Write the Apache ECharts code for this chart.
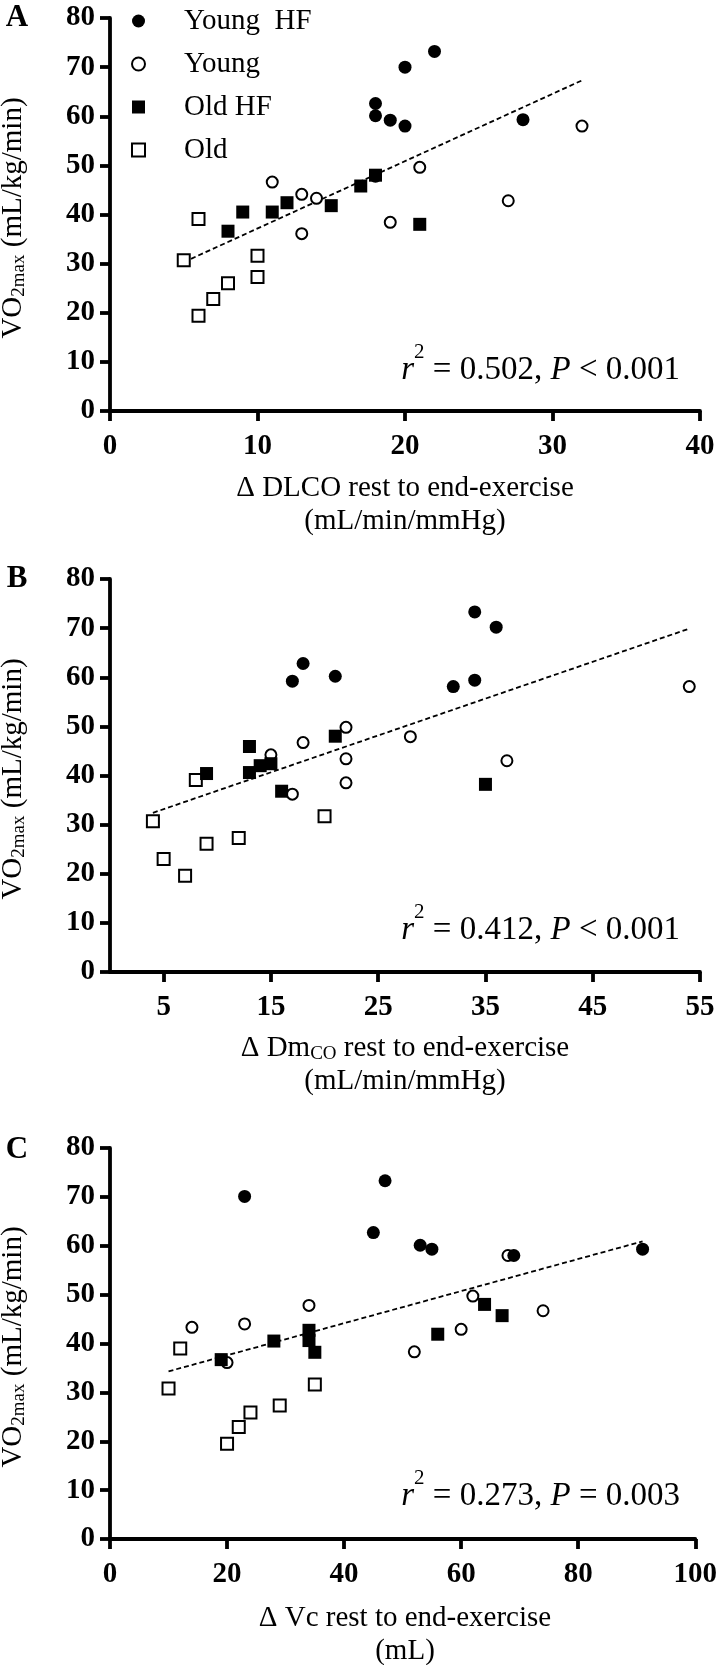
<!DOCTYPE html>
<html><head><meta charset="utf-8">
<script src="https://cdn.jsdelivr.net/npm/echarts@6/dist/echarts.min.js"></script>
<style>html,body{margin:0;padding:0;background:#fff}#c{width:720px;height:1665px}</style>
</head><body><div id="c"></div>
<script>
// ---------- DATA ----------
const groupNames = ['Young  HF', 'Young', 'Old HF', 'Old'];
const yTicks = [0, 10, 20, 30, 40, 50, 60, 70, 80];

// Panel A: Δ DLCO (mL/min/mmHg) vs VO2max
const xTicksA = [0, 10, 20, 30, 40];
const aYoungHF = [[22,73.2],[20,70.0],[18,62.6],[18,60.1],[19,59.2],[20,58.0],[28,59.3]];
const aYoung   = [[11,46.6],[13,44.1],[14,43.3],[13,36.1],[19,38.4],[21,49.6],[27,42.8],[32,58.0],[18,47.8]];
const aOldHF   = [[8,36.6],[9,40.5],[11,40.5],[12,42.4],[15,41.8],[17,45.8],[18,48.0],[21,38.0]];
const aOld     = [[5,30.7],[6,39.1],[6,19.4],[7,22.8],[8,26.0],[10,31.6],[10,27.3]];
const aFit     = [[5,30.3],[32,67.3]];

// Panel B: Δ DmCO (mL/min/mmHg) vs VO2max
const xTicksB = [5, 15, 25, 35, 45, 55];
const bYoungHF = [[34,73.3],[36,70.2],[18,62.8],[17,59.2],[21,60.2],[32,58.1],[34,59.4]];
const bYoung   = [[54,58.1],[22,49.8],[28,47.9],[18,46.7],[15,44.2],[22,43.4],[37,43.0],[22,38.5],[17,36.2]];
const bOldHF   = [[13,45.9],[9,40.4],[13,40.6],[14,42.0],[15,42.4],[16,36.8],[21,48.0],[35,38.2]];
const bOld     = [[4,30.7],[8,39.1],[20,31.7],[12,27.3],[9,26.1],[5,23.0],[7,19.6]];
const bFit     = [[4,32.4],[54,69.9]];

// Panel C: Δ Vc (mL) vs VO2max
const xTicksC = [0, 20, 40, 60, 80, 100];
const cYoungHF = [[23,70.1],[47,73.3],[45,62.7],[53,60.1],[55,59.3],[69,58.0],[91,59.3]];
const cYoung   = [[14,43.3],[23,44.0],[34,47.8],[20,36.1],[52,38.3],[60,42.9],[62,49.7],[68,58.0],[74,46.7]];
const cOldHF   = [[19,36.7],[28,40.5],[34,42.7],[34,40.6],[35,38.2],[56,41.9],[64,48.0],[67,45.7]];
const cOld     = [[10,30.8],[12,39.0],[20,19.5],[22,22.9],[24,25.9],[29,27.3],[35,31.6]];
const cFit     = [[10,34.3],[91,60.9]];

const statsA = ['0.502', '<', '0.001'];
const statsB = ['0.412', '<', '0.001'];
const statsC = ['0.273', '=', '0.003'];

// ---------- CHART ----------
const SERIF = '"Liberation Serif","Times New Roman",serif';
const chart = echarts.init(document.getElementById('c'));

const grids = [
  {left:110, top:18, width:590, height:393},
  {left:110, top:579, width:590, height:393},
  {left:110, top:1148, width:590, height:391}
];
const lineSt = {color:'#000', width:3.8};
function xAxis(i, min, max, ticks) {
  return {
    type:'value', gridIndex:i, min, max,
    axisLine:{show:true, onZero:false, lineStyle:lineSt},
    axisTick:{show:true, length:10, customValues:ticks, lineStyle:lineSt},
    axisLabel:{customValues:ticks, margin:21, fontFamily:SERIF, fontWeight:'bold', fontSize:29, color:'#000'},
    splitLine:{show:false}
  };
}
function yAxis(i) {
  return {
    type:'value', gridIndex:i, min:0, max:80,
    axisLine:{show:true, onZero:false, lineStyle:lineSt},
    axisTick:{show:true, length:10, customValues:yTicks, lineStyle:lineSt},
    axisLabel:{customValues:yTicks, margin:15, fontFamily:SERIF, fontWeight:'bold', fontSize:29, color:'#000'},
    splitLine:{show:false}
  };
}
const styles = {
  'Young  HF': {symbol:'circle', symbolSize:13, itemStyle:{color:'#000', opacity:1}},
  'Young':     {symbol:'circle', symbolSize:11, itemStyle:{color:'#fff', borderColor:'#000', borderWidth:2, opacity:1}},
  'Old HF':    {symbol:'rect', symbolSize:13, itemStyle:{color:'#000', opacity:1}},
  'Old':       {symbol:'rect', symbolSize:12, itemStyle:{color:'#fff', borderColor:'#000', borderWidth:2, opacity:1}}
};
const panels = [
  [aYoung, aYoungHF, aOld, aOldHF, aFit],
  [bYoung, bYoungHF, bOld, bOldHF, bFit],
  [cYoung, cYoungHF, cOld, cOldHF, cFit]
];
const series = [];
panels.forEach((p, i) => {
  const order = [['Young', p[0]], ['Young  HF', p[1]], ['Old', p[2]], ['Old HF', p[3]]];
  series.push({type:'line', xAxisIndex:i, yAxisIndex:i, data:p[4], symbol:'none', silent:true,
    lineStyle:{color:'#000', width:1.8, type:[5,3]}, z:1});
  order.forEach(([name, data]) => {
    series.push(Object.assign({type:'scatter', name, xAxisIndex:i, yAxisIndex:i, data, z:3}, styles[name]));
  });
});

function statText(s) {
  return '{i|r}{sup|2}{n| = ' + s[0] + ', }{i|P}{n| ' + s[1] + ' ' + s[2] + '}';
}
const statRich = {
  i:{fontFamily:SERIF, fontStyle:'italic', fontSize:33, lineHeight:56},
  n:{fontFamily:SERIF, fontSize:33, lineHeight:56},
  sup:{fontFamily:SERIF, fontSize:21, lineHeight:21, verticalAlign:'top'}
};
const yRich = {
  n:{fontFamily:SERIF, fontSize:29, lineHeight:32},
  s:{fontFamily:SERIF, fontSize:19, padding:[10,0,0,0], verticalAlign:'bottom'}
};
function text(x, y, t, extra) {
  return {type:'text', x, y, silent:true, style:Object.assign({text:t, fill:'#000', fontFamily:SERIF, fontSize:29, align:'center', verticalAlign:'middle'}, extra || {})};
}
const graphics = [];
// panel letters
[['A',17,18],['B',17,579],['C',17,1150]].forEach(([t,x,y]) => graphics.push(text(x,y,t,{fontWeight:'bold', fontSize:31})));
// y titles
[218, 779, 1347].forEach(y => graphics.push(Object.assign(text(13, y, '{n|VO}{s|2max}{n| (mL/kg/min)}', {rich:yRich}), {rotation:Math.PI/2})));
// x titles
graphics.push(text(405, 488, 'Δ DLCO rest to end-exercise'));
graphics.push(text(405, 521, '(mL/min/mmHg)'));
graphics.push(text(405, 1048, '{n|Δ Dm}{s|CO}{n| rest to end-exercise}', {rich:yRich}));
graphics.push(text(405, 1081, '(mL/min/mmHg)'));
graphics.push(text(405, 1618, 'Δ Vc rest to end-exercise'));
graphics.push(text(405, 1651, '(mL)'));
// stats
[[statsA,370],[statsB,930],[statsC,1496]].forEach(([s,y]) => graphics.push(text(680, y, statText(s), {align:'right', rich:statRich})));

chart.setOption({
  animation:false,
  backgroundColor:'#fff',
  grid:grids,
  xAxis:[xAxis(0,0,40,xTicksA), xAxis(1,0,55,xTicksB), xAxis(2,0,100,xTicksC)],
  yAxis:[yAxis(0), yAxis(1), yAxis(2)],
  legend:{
    data:groupNames,
    orient:'vertical', left:131, top:6, padding:0,
    itemWidth:13, itemHeight:13, itemGap:13, selectedMode:false,
    itemStyle:{opacity:1},
    textStyle:{fontFamily:SERIF, fontSize:29, color:'#000', lineHeight:30, padding:[0,0,0,34]}
  },
  graphic:graphics,
  series
});
</script></body></html>
